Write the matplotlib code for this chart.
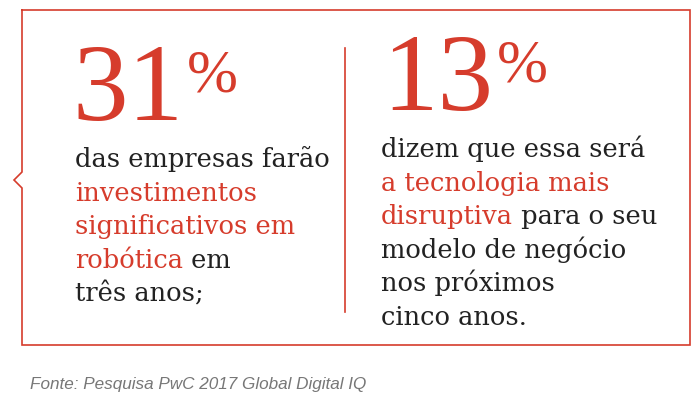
import matplotlib
matplotlib.use("Agg")
import matplotlib.pyplot as plt

values = [31, 13]
left_lines = [[("das empresas farão", "k")], [("investimentos", "r")], [("significativos em", "r")],
              [("robótica", "r"), (" em", "k")], [("três anos;", "k")]]
right_lines = [[("dizem que essa será", "k")], [("a tecnologia mais", "r")],
               [("disruptiva", "r"), (" para o seu", "k")], [("modelo de negócio", "k")],
               [("nos próximos", "k")], [("cinco anos.", "k")]]
source = "Fonte: Pesquisa PwC 2017 Global Digital IQ"

RED = "#d63c2c"
DARK = "#222222"
fig = plt.figure(figsize=(7, 4.15), dpi=100)
ax = fig.add_axes([0, 0, 1, 1])
ax.set_xlim(0, 700); ax.set_ylim(415, 0); ax.axis("off")

xs = [22, 690, 690, 22, 22, 14, 22, 22]
ys = [10, 10, 345, 345, 188, 180, 172, 10]
ax.plot(xs, ys, color=RED, lw=1.2, solid_joinstyle="miter")
ax.plot([345, 345], [48, 312], color=RED, lw=1.2)

r = fig.canvas.get_renderer()
inv = ax.transData.inverted()

def put_runs(x, y, runs, size=18.5):
    for txt, c in runs:
        t = ax.text(x, y, txt, fontsize=size, family="DejaVu Serif", color=RED if c == "r" else DARK,
                    va="baseline", ha="left")
        bb = t.get_window_extent(renderer=r)
        x = inv.transform((bb.x1, bb.y0))[0]

def big(x, y, v):
    t = ax.text(x, y, str(v), fontsize=80, family="Liberation Serif", color=RED, va="baseline")
    bb = t.get_window_extent(renderer=r)
    xe = inv.transform((bb.x1, bb.y0))[0]
    ax.text(xe + 4, y - 28, "%", fontsize=44, family="Liberation Serif", color=RED, va="baseline")

big(72, 120, values[0])
big(382, 110, values[1])
for i, ln in enumerate(left_lines):
    put_runs(75, 167 + i * 33.5, ln)
for i, ln in enumerate(right_lines):
    put_runs(381, 157 + i * 33.5, ln)

ax.text(30, 389, source, fontsize=12.3, style="italic", color="#777777", family="Liberation Sans", va="baseline")
fig.savefig("out.png", dpi=100)
